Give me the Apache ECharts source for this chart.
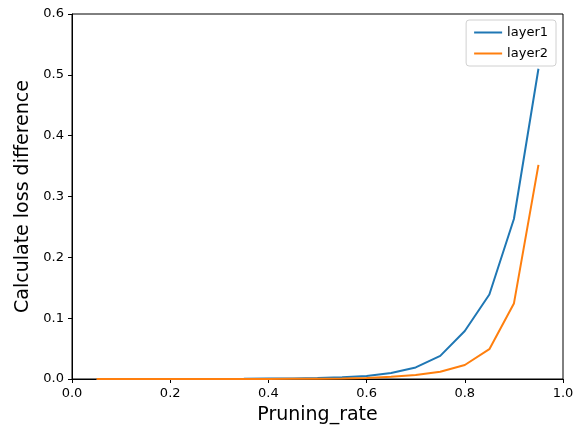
<!DOCTYPE html>
<html>
<head>
<meta charset="utf-8">
<script src="https://cdn.jsdelivr.net/npm/echarts@6/dist/echarts.min.js"></script>
<style>
  html, body { margin: 0; padding: 0; background: #fff; }
  #chart { width: 579px; height: 428px; }
</style>
</head>
<body>
<div id="chart"></div>
<script>
// pruning rates on the x axis
var rates = [0.05, 0.1, 0.15, 0.2, 0.25, 0.3, 0.35, 0.4, 0.45, 0.5,
             0.55, 0.6, 0.65, 0.7, 0.75, 0.8, 0.85, 0.9, 0.95];
var layer1 = [0, 0, 0, 0, 0, 0.0002, 0.0004, 0.0007, 0.001, 0.0017,
              0.003, 0.005, 0.01, 0.019, 0.038, 0.079, 0.139, 0.263, 0.51];
var layer2 = [0, 0, 0, 0, 0, 0, 0.0001, 0.0002, 0.0004, 0.0006,
              0.001, 0.0017, 0.0035, 0.0066, 0.012, 0.023, 0.049, 0.124, 0.352];
var xTicks = [0, 0.2, 0.4, 0.6, 0.8, 1.0];
var yTicks = [0, 0.1, 0.2, 0.3, 0.4, 0.5, 0.6];

function pairs(ys) {
    return rates.map(function (x, i) { return [x, ys[i]]; });
}

var font = 'DejaVu Sans';
var myChart = echarts.init(document.getElementById('chart'));
myChart.setOption({
    animation: false,
    textStyle: { fontFamily: font },
    grid: {
        left: 72, right: 16, top: 14, bottom: 49,
        outerBoundsMode: 'none',
        show: true, borderColor: '#000', borderWidth: 1
    },
    legend: {
        orient: 'vertical',
        right: 23, top: 20,
        data: ['layer1', 'layer2'],
        backgroundColor: '#fff',
        borderColor: '#d0d0d0', borderWidth: 1, borderRadius: 3,
        padding: [6, 8, 6, 8],
        itemGap: 8,
        itemWidth: 28, itemHeight: 2,
        icon: 'rect',
        textStyle: { fontFamily: font, fontSize: 13, color: '#000' }
    },
    xAxis: {
        type: 'value',
        min: 0, max: 1, interval: 0.2,
        name: 'Pruning_rate',
        nameLocation: 'middle', nameGap: 27,
        nameTextStyle: { fontFamily: font, fontSize: 19, color: '#000' },
        axisLine: { show: true, lineStyle: { color: '#000' } },
        axisTick: { show: true, length: 4, lineStyle: { color: '#000' } },
        axisLabel: {
            fontFamily: font, fontSize: 13, color: '#000', margin: 8,
            formatter: function (v) { return v.toFixed(1); }
        },
        splitLine: { show: false }
    },
    yAxis: {
        type: 'value',
        min: 0, max: 0.6, interval: 0.1,
        name: 'Calculate loss difference',
        nameLocation: 'middle', nameGap: 38,
        nameTextStyle: { fontFamily: font, fontSize: 19, color: '#000' },
        axisLine: { show: true, lineStyle: { color: '#000' } },
        axisTick: { show: true, length: 4, lineStyle: { color: '#000' } },
        axisLabel: {
            fontFamily: font, fontSize: 13, color: '#000', margin: 8,
            formatter: function (v) { return v.toFixed(1); }
        },
        splitLine: { show: false }
    },
    series: [
        {
            name: 'layer1', type: 'line', data: pairs(layer1),
            showSymbol: false, symbol: 'none',
            color: '#1f77b4', lineStyle: { width: 2, color: '#1f77b4' }
        },
        {
            name: 'layer2', type: 'line', data: pairs(layer2),
            showSymbol: false, symbol: 'none',
            color: '#ff7f0e', lineStyle: { width: 2, color: '#ff7f0e' }
        }
    ]
});
</script>
</body>
</html>
